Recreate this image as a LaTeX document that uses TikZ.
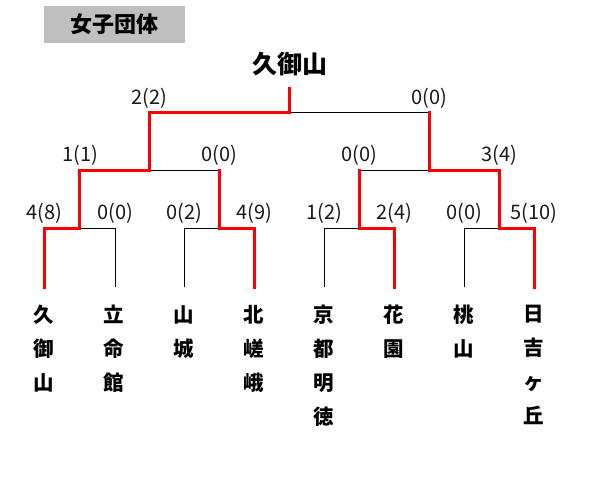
\documentclass[tikz,border=0pt]{standalone}
\usepackage{fontspec}
\newfontfamily\jp{Noto Sans CJK JP}
\definecolor{titlegray}{HTML}{BFBFBF}
\definecolor{txt}{HTML}{1A1A1A}
\begin{document}
\begin{tikzpicture}[x=1pt,y=-1pt,
  thin line/.style={draw=black,line width=1pt},
  win line/.style={draw=red,line width=3pt,line cap=rect,line join=miter},
  score/.style={font=\jp\fontsize{20}{20}\selectfont,text=txt,inner sep=0pt,anchor=center},
  team/.style={font=\jp\bfseries\fontsize{20.5}{34}\selectfont,text=black,inner sep=0pt,align=center,anchor=north},
]
\useasboundingbox (0,0) rectangle (601,477);
% title
\node[fill=titlegray,minimum width=141pt,minimum height=37pt,inner sep=0pt,
  font=\jp\bfseries\fontsize{22}{22}\selectfont] (title) at (114.5,24.5) {女子団体};
\node[font=\jp\bfseries\fontsize{25}{25}\selectfont,inner sep=0pt] (champ) at (290,64) {久御山};
% coordinates: leaves
\foreach \n/\x in {1/44,2/115,3/184,4/254,5/324,6/394,7/464,8/534}{
  \coordinate (b\n) at (\x,287);
  \coordinate (t\n) at (\x,228);
}
% round 1 junctions
\foreach \n/\x in {1/79.5,2/219,3/359,4/499}{
  \coordinate (j\n) at (\x,228);
  \coordinate (k\n) at (\x,170);
}
% round 2 junctions
\coordinate (m1) at (149.5,170);
\coordinate (n1) at (149.5,112);
\coordinate (m2) at (429,170);
\coordinate (n2) at (429,112);
\coordinate (f) at (289.5,112);
\coordinate (ftop) at (289.5,88);
% black lines
\draw[thin line] (b2) -- (t2) -- (j1);
\draw[thin line] (b3) -- (t3) -- (j2);
\draw[thin line] (b5) -- (t5) -- (j3);
\draw[thin line] (b7) -- (t7) -- (j4);
\draw[thin line] (m1) -- (k2);
\draw[thin line] (k3) -- (m2);
\draw[thin line] (f) -- (n2);
% red winner lines
\draw[win line] (b1) -- (t1) -- (j1) -- (k1) -- (m1) -- (n1) -- (f) -- (ftop);
\draw[win line] (b4) -- (t4) -- (j2) -- (k2);
\draw[win line] (b6) -- (t6) -- (j3) -- (k3);
\draw[win line] (b8) -- (t8) -- (j4) -- (k4) -- (m2) -- (n2);
% scores round 1
\node[score] (s1) at (44,213.5) {4(8)};
\node[score] (s2) at (115,213.5) {0(0)};
\node[score] (s3) at (184,213.5) {0(2)};
\node[score] (s4) at (254,213.5) {4(9)};
\node[score] (s5) at (324,213.5) {1(2)};
\node[score] (s6) at (394,213.5) {2(4)};
\node[score] (s7) at (464,213.5) {0(0)};
\node[score] (s8) at (534,213.5) {5(10)};
% scores round 2
\node[score] (q1) at (80,155.5) {1(1)};
\node[score] (q2) at (219,155.5) {0(0)};
\node[score] (q3) at (359,155.5) {0(0)};
\node[score] (q4) at (499,155.5) {3(4)};
% scores semi
\node[score] (r1) at (149.5,98.5) {2(2)};
\node[score] (r2) at (429.5,98.5) {0(0)};
% teams
\node[team] (n1t) at (44,305) {久\\御\\山};
\node[team] (n2t) at (114,305) {立\\命\\館};
\node[team] (n3t) at (184,305) {山\\城};
\node[team] (n4t) at (254,305) {北\\嵯\\峨};
\node[team] (n5t) at (324,305) {京\\都\\明\\徳};
\node[team] (n6t) at (394,305) {花\\園};
\node[team] (n7t) at (464,305) {桃\\山};
\node[team] (n8t) at (534,305) {日\\吉\\ヶ\\丘};
\end{tikzpicture}
\end{document}
